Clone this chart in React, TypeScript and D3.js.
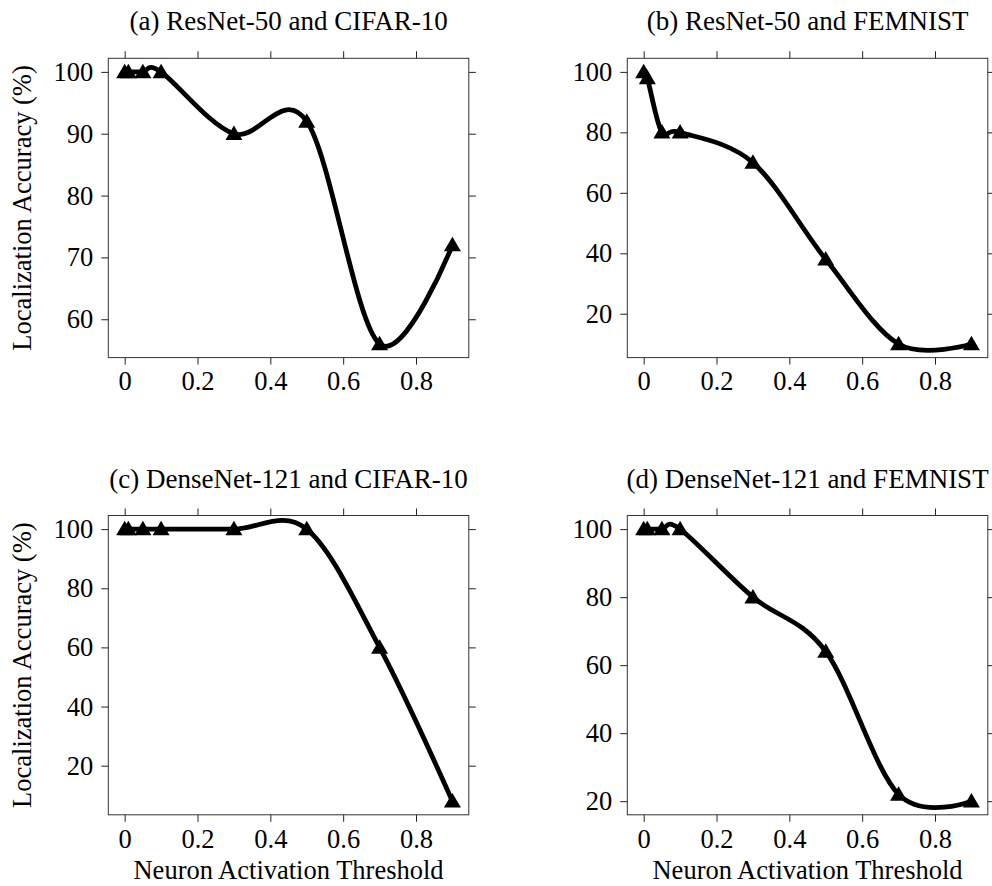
import React, { useEffect, useRef } from 'react';
import * as d3 from 'd3';

// Threshold values shared by every panel
const thresholds = [0, 0.01, 0.05, 0.1, 0.3, 0.5, 0.7, 0.9];

// Localization accuracy (%) per panel
const resnetCifar = [100, 100, 100, 100, 90, 92, 56, 72];
const resnetFemnist = [100, 98, 80, 80, 70, 38, 10, 10];
const densenetCifar = [100, 100, 100, 100, 100, 100, 60, 8];
const densenetFemnist = [100, 100, 100, 100, 80, 64, 22, 20];

const panelTitles = [
  '(a) ResNet-50 and CIFAR-10',
  '(b) ResNet-50 and FEMNIST',
  '(c) DenseNet-121 and CIFAR-10',
  '(d) DenseNet-121 and FEMNIST'
];

const xTicks = [0, 0.2, 0.4, 0.6, 0.8];
const yTicksA = [60, 70, 80, 90, 100];
const yTicksRest = [20, 40, 60, 80, 100];

const xLabel = 'Neuron Activation Threshold';
const yLabel = 'Localization Accuracy (%)';

const FONT = '"Liberation Serif", "Times New Roman", serif';

const panels = [
  { title: panelTitles[0], values: resnetCifar, yTicks: yTicksA, left: 108.3, top: 58.3, titleY: 30, showX: false, showY: true },
  { title: panelTitles[1], values: resnetFemnist, yTicks: yTicksRest, left: 627.3, top: 58.3, titleY: 30, showX: false, showY: false },
  { title: panelTitles[2], values: densenetCifar, yTicks: yTicksRest, left: 108.3, top: 515.5, titleY: 488, showX: true, showY: true },
  { title: panelTitles[3], values: densenetFemnist, yTicks: yTicksRest, left: 627.3, top: 515.5, titleY: 488, showX: true, showY: false }
];

const plotW = 360.5;
const plotH = 299.3;

export default function App() {
  const ref = useRef<SVGSVGElement>(null);

  useEffect(() => {
    const svg = d3.select(ref.current);
    svg.selectAll('*').remove();

    const xExt = d3.extent(thresholds) as [number, number];
    const xPad = (xExt[1] - xExt[0]) * 0.05;

    panels.forEach((p) => {
      const g = svg.append('g').attr('transform', `translate(${p.left},${p.top})`);

      const yExt = d3.extent(p.values) as [number, number];
      const yPad = (yExt[1] - yExt[0]) * 0.05;

      const x = d3.scaleLinear().domain([xExt[0] - xPad, xExt[1] + xPad]).range([0, plotW]);
      const y = d3.scaleLinear().domain([yExt[0] - yPad, yExt[1] + yPad]).range([plotH, 0]);

      const styleAxis = (sel: any) => {
        sel.select('.domain').remove();
        sel.selectAll('line').attr('stroke', '#222').attr('stroke-width', 1);
        sel.attr('font-family', FONT).attr('font-size', 26.5);
        sel.selectAll('text').attr('fill', '#000');
      };

      // bottom + left with labels, top + right ticks only
      g.append('g').attr('transform', `translate(0,${plotH})`)
        .call(d3.axisBottom(x).tickValues(xTicks).tickSize(7).tickPadding(7).tickFormat((d: any) => String(d)))
        .call(styleAxis);
      g.append('g')
        .call(d3.axisTop(x).tickValues(xTicks).tickSize(7).tickFormat(() => ''))
        .call(styleAxis);
      g.append('g')
        .call(d3.axisLeft(y).tickValues(p.yTicks).tickSize(7).tickPadding(8).tickFormat((d: any) => String(d)))
        .call(styleAxis);
      g.append('g').attr('transform', `translate(${plotW},0)`)
        .call(d3.axisRight(y).tickValues(p.yTicks).tickSize(7).tickFormat(() => ''))
        .call(styleAxis);

      // frame
      g.append('rect')
        .attr('width', plotW).attr('height', plotH)
        .attr('fill', 'none').attr('stroke', '#333').attr('stroke-width', 1);

      // smooth curve through the points (uniform catmull-rom)
      const line = d3.line<number>()
        .x((d, i) => x(thresholds[i]))
        .y((d) => y(d))
        .curve(d3.curveCatmullRom.alpha(0));
      g.append('path')
        .datum(p.values)
        .attr('d', line)
        .attr('fill', 'none')
        .attr('stroke', '#000')
        .attr('stroke-width', 4.8)
        .attr('stroke-linejoin', 'round');

      // triangle markers
      const tw = 17, th = 14.5;
      g.selectAll('path.marker')
        .data(p.values)
        .enter()
        .append('path')
        .attr('class', 'marker')
        .attr('d', (v, i) => {
          const cx = x(thresholds[i]), cy = y(v) - 1;
          const pth = d3.path();
          pth.moveTo(cx, cy - th / 2);
          pth.lineTo(cx + tw / 2, cy + th / 2);
          pth.lineTo(cx - tw / 2, cy + th / 2);
          pth.closePath();
          return pth.toString();
        })
        .attr('fill', '#000');

      // title
      svg.append('text')
        .attr('x', p.left + plotW / 2)
        .attr('y', p.titleY)
        .attr('text-anchor', 'middle')
        .attr('font-family', FONT)
        .attr('font-size', 27)
        .text(p.title);

      if (p.showX) {
        svg.append('text')
          .attr('x', p.left + plotW / 2)
          .attr('y', 879)
          .attr('text-anchor', 'middle')
          .attr('font-family', FONT)
          .attr('font-size', 26.5)
          .text(xLabel);
      }
      if (p.showY) {
        svg.append('text')
          .attr('transform', `translate(31,${p.top + plotH / 2}) rotate(-90)`)
          .attr('text-anchor', 'middle')
          .attr('font-family', FONT)
          .attr('font-size', 26.5)
          .text(yLabel);
      }
    });
  }, []);

  return (
    <svg
      ref={ref}
      width={992}
      height={886}
      style={{ position: 'absolute', left: 0, top: 0, background: '#fff' }}
    />
  );
}
